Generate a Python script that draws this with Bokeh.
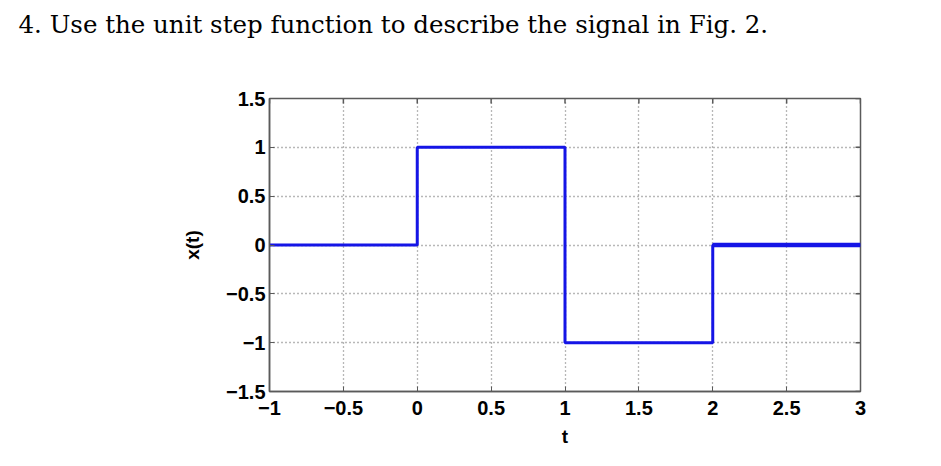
import math
from bokeh.plotting import figure
from bokeh.models import Range1d, FixedTicker
from bokeh.embed import file_html
from bokeh.resources import INLINE

# signal samples (step function)
t_vals = [-1, 0, 0, 1, 1, 2, 2, 3]
x_vals = [0, 0, 1, 1, -1, -1, 0, 0]

x_ticks = [-1, -0.5, 0, 0.5, 1, 1.5, 2, 2.5, 3]
x_tick_labels = ["\u22121", "\u22120.5", "0", "0.5", "1", "1.5", "2", "2.5", "3"]
y_ticks = [-1.5, -1, -0.5, 0, 0.5, 1, 1.5]
y_tick_labels = ["\u22121.5", "\u22121", "\u22120.5", "0", "0.5", "1", "1.5"]

title_text = "4.  Use the unit step function to describe the signal in Fig. 2."

p = figure(width=925, height=450, output_backend="svg", toolbar_location=None,
           x_range=Range1d(-1, 3), y_range=Range1d(-1.5, 1.5),
           x_axis_label="t", y_axis_label="x(t)",
           min_border_left=269, min_border_right=65, min_border_top=98, min_border_bottom=59)
p.background_fill_color = "white"
p.border_fill_color = "white"
p.outline_line_color = "#5a5a5a"
p.outline_line_width = 1.5

# question text; two blank lines below it keep it near the top of the page
p.title.text = title_text + "\n \n "
p.title.align = "left"
p.title.vertical_align = "top"
p.title.offset = -251
p.title.standoff = 0
p.title.text_font = "DejaVu Serif"
p.title.text_font_style = "normal"
p.title.text_font_size = "24.5px"
p.title.text_color = "black"

axis_col = "#5a5a5a"
for ax in (p.xaxis[0], p.yaxis[0]):
    ax.axis_line_color = axis_col
    ax.axis_line_width = 1.5
    ax.major_tick_line_color = axis_col
    ax.major_tick_in = 5
    ax.major_tick_out = 0
    ax.minor_tick_line_color = None
    ax.major_label_text_font = "Liberation Sans"
    ax.major_label_text_font_style = "bold"
    ax.major_label_text_font_size = "20px"
    ax.major_label_text_color = "black"
    ax.axis_label_text_font = "Liberation Sans"
    ax.axis_label_text_font_style = "bold"
    ax.axis_label_text_font_size = "19px"
    ax.axis_label_text_color = "black"

p.xaxis.ticker = FixedTicker(ticks=x_ticks)
p.yaxis.ticker = FixedTicker(ticks=y_ticks)
p.xaxis.major_label_overrides = dict(zip(x_ticks, x_tick_labels))
p.yaxis.major_label_overrides = dict(zip(y_ticks, y_tick_labels))
p.xaxis.major_label_standoff = 9
p.yaxis.major_label_standoff = 4
p.xaxis.axis_label_standoff = 8
p.yaxis.axis_label_standoff = 20

p.grid.grid_line_color = "#707070"
p.grid.grid_line_dash = "1 3"
p.grid.grid_line_width = 1.3
p.xgrid.ticker = FixedTicker(ticks=x_ticks)
p.ygrid.ticker = FixedTicker(ticks=y_ticks)

# MATLAB-style inward ticks on top and right edges (half of each dash is clipped by the frame)
p.scatter(x_ticks, [1.5] * len(x_ticks), marker="dash", size=10, angle=math.pi / 2,
          line_color=axis_col, line_width=1.5)
p.scatter([3] * len(y_ticks), y_ticks, marker="dash", size=10,
          line_color=axis_col, line_width=1.5)

p.line(t_vals, x_vals, line_width=3, color="#1515e6")
p.line(t_vals[-2:], x_vals[-2:], line_width=4.5, color="#1515e6")

open("out.html", "w").write(file_html(p, INLINE))
